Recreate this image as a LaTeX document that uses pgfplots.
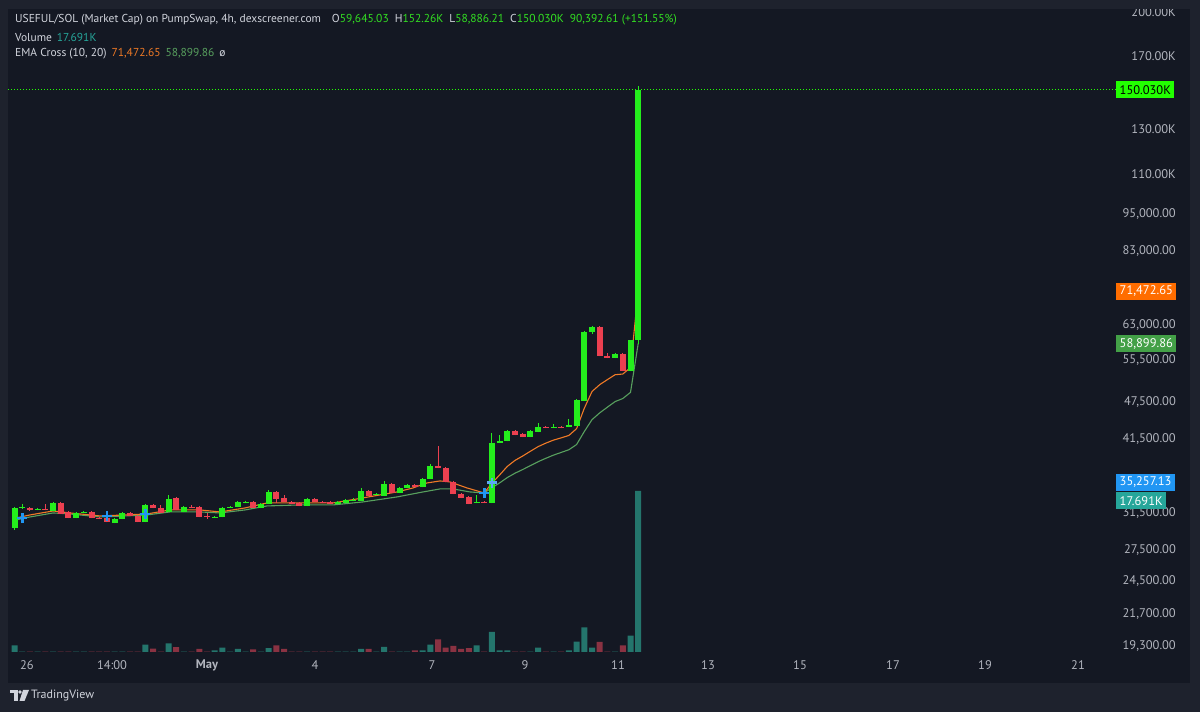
\documentclass[border=0pt]{standalone}
\usepackage{pgfplots}
\pgfplotsset{compat=1.18}
\usepackage{fontspec}
\setmainfont{PT Sans}
\definecolor{outerbg}{HTML}{1E222D}
\definecolor{panelbg}{HTML}{141823}
\definecolor{cgreen}{HTML}{24EE1C}
\definecolor{cred}{HTML}{EC4050}
\definecolor{vteal}{HTML}{24756C}
\definecolor{vred}{HTML}{8A3242}
\definecolor{emaor}{HTML}{F07A26}
\definecolor{emagr}{HTML}{58A05E}
\definecolor{txt}{HTML}{D1D4DC}
\definecolor{axtxt}{HTML}{B2B5BE}
\definecolor{tgreen}{HTML}{33E022}
\definecolor{tteal}{HTML}{26A69A}
\definecolor{boxgreen}{HTML}{22FF00}
\definecolor{boxor}{HTML}{FF6D00}
\definecolor{boxema}{HTML}{43A047}
\definecolor{boxblue}{HTML}{2196F3}
\definecolor{crossblue}{HTML}{2196F3}
\definecolor{crosslight}{HTML}{5AA9F0}
\begin{document}
\begin{tikzpicture}
\fill[outerbg] (0,0) rectangle (1200pt,712pt);
\begin{scope}[x=1pt,y=-1pt,yshift=712pt]
\fill[panelbg] (8,8) rectangle (1190,683);
\end{scope}
% ---------------- volume pane ----------------
\begin{axis}[scale only axis, width=1200pt, height=712pt, xmin=0, xmax=1200,
  ymin=-6593, ymax=71642, axis lines=none, clip=false]
\addplot[ybar, bar width=6pt, bar shift=0pt, fill=vteal, draw=none] coordinates {
(14.5,720)(22.2,40)(37.6,40)(53,40)(76.1,40)(83.8,40)(114.6,40)(122.3,40)(145.4,815)(168.5,960)(183.9,40)(214.7,190)(222.4,480)(230.1,40)(237.8,336)(245.5,40)(260.9,40)(268.6,432)(307.1,40)(337.9,40)(345.6,40)(353.3,40)(361,336)(376.4,40)(384.1,576)(399.5,40)(407.2,40)(422.6,190)(430.3,815)(476.5,720)(491.9,2200)(499.6,190)(507.3,190)(530.4,40)(538.1,480)(553.5,40)(568.9,190)(576.6,1150)(584.3,2700)(592,480)(615.1,40)(630.5,1800)(638.2,17691)};
\addplot[ybar, bar width=6pt, bar shift=0pt, fill=vred, draw=none] coordinates {
(29.9,40)(45.3,40)(60.7,40)(68.4,40)(91.5,40)(99.2,40)(106.9,40)(130,40)(137.7,40)(153.1,384)(160.8,40)(176.2,527)(191.6,40)(199.3,336)(207,40)(253.2,288)(276.3,720)(284,336)(291.7,40)(299.4,40)(314.8,40)(322.5,40)(330.2,40)(368.7,336)(391.8,40)(414.9,190)(438,1390)(445.7,480)(453.4,670)(461.1,336)(468.8,432)(484.2,40)(515,40)(522.7,40)(545.8,40)(561.2,40)(599.7,1100)(607.4,40)(622.8,720)};
\end{axis}
% ---------------- price pane ----------------
\begin{axis}[scale only axis, width=1200pt, height=712pt, xmin=0, xmax=1200,
  ymode=log, ymin=15142, ymax=209048, axis lines=none, clip=false,
  unbounded coords=jump]
% last-price dotted line
\addplot[boxgreen, line width=1pt, dash pattern=on 1pt off 2pt] coordinates {(8,150030)(1116,150030)};
% EMA 20
\addplot[emagr, line width=1.1pt, line join=round] coordinates {
(16,30736)(30,31078)(53,31540)(70,31424)(100,31078)(125,31193)(147,31308)(170,31657)(200,31657)(220,31540)(245,31891)(267,32365)(300,32485)(333,32485)(363,32846)(397,33457)(423,34080)(440,34459)(453,34459)(470,34080)(484.2,33955)(491.9,34610)(499.6,35231)(507.3,35940)(515,36522)(522.7,37019)(530.4,37558)(538.1,38105)(545.8,38585)(553.5,39035)(561.2,39427)(568.9,39828)(576.6,40591)(584.3,42580)(592,44488)(599.7,45610)(607.4,46586)(615.1,47548)(622.8,48091)(630.5,49191)(638.2,58899.86)};
% EMA 10
\addplot[emaor, line width=1.1pt, line join=round] coordinates {
(16,30964)(30,31308)(53,31774)(70,31540)(100,31193)(125,31308)(147,31424)(170,31891)(200,31891)(220,31657)(245,32127)(267,32725)(300,32725)(333,32725)(357,33211)(380,33705)(397,34080)(413,34586)(427,35230)(440,35491)(450,35360)(467,34586)(484.2,33955)(491.9,35202)(499.6,36281)(507.3,37445)(515,38284)(522.7,38913)(530.4,39598)(538.1,40274)(545.8,40798)(553.5,41256)(561.2,41601)(568.9,41971)(576.6,43040)(584.3,46397)(592,49351)(599.7,50611)(607.4,51567)(615.1,52500)(622.8,52636)(630.5,53911)(638.2,71472.65)};
% cross hidden behind the breakout candle
\addplot[only marks, mark=+, mark size=5pt, crosslight, line width=2.6pt] coordinates {(491.9,35257.13)};
% green wicks
\addplot[cgreen, line width=1pt] coordinates {
(14.5,29624)(14.5,32246)(14.5,nan)
(22.2,32009)(22.2,32605)(22.2,nan)
(37.6,31832)(37.6,32127)(37.6,nan)
(53,31715)(53,32846)(53,nan)
(76.1,30907)(76.1,31657)(76.1,nan)
(83.8,31482)(83.8,31774)(83.8,nan)
(114.6,30342)(114.6,30907)(114.6,nan)
(122.3,30793)(122.3,31599)(122.3,nan)
(145.4,30454)(145.4,32545)(145.4,nan)
(168.5,31599)(168.5,33705)(168.5,nan)
(183.9,31599)(183.9,32305)(183.9,nan)
(214.7,30907)(214.7,31136)(214.7,nan)
(222.4,31021)(222.4,32187)(222.4,nan)
(230.1,32068)(230.1,32305)(230.1,nan)
(237.8,32187)(237.8,32906)(237.8,nan)
(245.5,32665)(245.5,32906)(245.5,nan)
(260.9,32068)(260.9,32665)(260.9,nan)
(268.6,32545)(268.6,34332)(268.6,nan)
(307.1,32305)(307.1,33272)(307.1,nan)
(337.9,32545)(337.9,32906)(337.9,nan)
(345.6,32665)(345.6,33150)(345.6,nan)
(353.3,32906)(353.3,33334)(353.3,nan)
(361,32906)(361,34586)(361,nan)
(376.4,33643)(376.4,33955)(376.4,nan)
(384.1,33519)(384.1,35491)(384.1,nan)
(399.5,33892)(399.5,34650)(399.5,nan)
(407.2,34522)(407.2,35035)(407.2,nan)
(422.6,34650)(422.6,35820)(422.6,nan)
(430.3,35688)(430.3,37787)(430.3,nan)
(476.5,32665)(476.5,33705)(476.5,nan)
(491.9,32665)(491.9,42364)(491.9,nan)
(499.6,40755)(499.6,42053)(499.6,nan)
(507.3,41058)(507.3,42757)(507.3,nan)
(530.4,41667)(530.4,42757)(530.4,nan)
(538.1,42443)(538.1,43956)(538.1,nan)
(553.5,43073)(553.5,43794)(553.5,nan)
(568.9,43232)(568.9,44609)(568.9,nan)
(576.6,43392)(576.6,47935)(576.6,nan)
(584.3,47582)(584.3,61595)(584.3,nan)
(592,61030)(592,62742)(592,nan)
(615.1,55758)(615.1,56795)(615.1,nan)
(630.5,53147)(630.5,59700)(630.5,nan)
(638.2,58886.21)(638.2,152260)};
% green bodies
\addplot[cgreen, line width=6pt] coordinates {
(14.5,29843)(14.5,32127)(14.5,nan)
(22.2,32127)(22.2,32246)(22.2,nan)
(37.6,31891)(37.6,32009)(37.6,nan)
(53,31774)(53,32725)(53,nan)
(76.1,30964)(76.1,31540)(76.1,nan)
(83.8,31540)(83.8,31657)(83.8,nan)
(114.6,30398)(114.6,30850)(114.6,nan)
(122.3,30850)(122.3,31540)(122.3,nan)
(145.4,30510)(145.4,32485)(145.4,nan)
(168.5,31657)(168.5,33211)(168.5,nan)
(183.9,31657)(183.9,32246)(183.9,nan)
(214.7,30964)(214.7,31078)(214.7,nan)
(222.4,31078)(222.4,32127)(222.4,nan)
(230.1,32127)(230.1,32246)(230.1,nan)
(237.8,32246)(237.8,32846)(237.8,nan)
(245.5,32725)(245.5,32846)(245.5,nan)
(260.9,32127)(260.9,32605)(260.9,nan)
(268.6,32605)(268.6,34080)(268.6,nan)
(307.1,32365)(307.1,33211)(307.1,nan)
(337.9,32605)(337.9,32846)(337.9,nan)
(345.6,32725)(345.6,33089)(345.6,nan)
(353.3,32967)(353.3,33089)(353.3,nan)
(361,32967)(361,34206)(361,nan)
(376.4,33705)(376.4,33830)(376.4,nan)
(384.1,33581)(384.1,35100)(384.1,nan)
(399.5,33955)(399.5,34586)(399.5,nan)
(407.2,34586)(407.2,34971)(407.2,nan)
(422.6,34714)(422.6,35754)(422.6,nan)
(430.3,35754)(430.3,37509)(430.3,nan)
(476.5,32725)(476.5,32846)(476.5,nan)
(491.9,32725)(491.9,40830)(491.9,nan)
(499.6,40830)(499.6,41132)(499.6,nan)
(507.3,41132)(507.3,42678)(507.3,nan)
(530.4,41744)(530.4,42678)(530.4,nan)
(538.1,42521)(538.1,43312)(538.1,nan)
(553.5,43153)(553.5,43312)(553.5,nan)
(568.9,43312)(568.9,43633)(568.9,nan)
(576.6,43472)(576.6,47846)(576.6,nan)
(584.3,47670)(584.3,61482)(584.3,nan)
(592,61482)(592,62626)(592,nan)
(615.1,55861)(615.1,56690)(615.1,nan)
(630.5,53245)(630.5,59645)(630.5,nan)
(638.2,59645.03)(638.2,150030)};
% red wicks
\addplot[cred, line width=1pt] coordinates {
(29.9,31774)(29.9,32246)(29.9,nan)
(45.3,31832)(45.3,32605)(45.3,nan)
(60.7,31366)(60.7,32785)(60.7,nan)
(68.4,30907)(68.4,31715)(68.4,nan)
(91.5,30907)(91.5,31715)(91.5,nan)
(99.2,30793)(99.2,31021)(99.2,nan)
(106.9,30454)(106.9,31078)(106.9,nan)
(130,31136)(130,31599)(130,nan)
(137.7,30454)(137.7,31250)(137.7,nan)
(153.1,32068)(153.1,32545)(153.1,nan)
(160.8,31482)(160.8,32485)(160.8,nan)
(176.2,31832)(176.2,33395)(176.2,nan)
(191.6,32068)(191.6,32485)(191.6,nan)
(199.3,31021)(199.3,32305)(199.3,nan)
(207,30850)(207,31540)(207,nan)
(253.2,32068)(253.2,32906)(253.2,nan)
(276.3,32725)(276.3,34143)(276.3,nan)
(284,32785)(284,33705)(284,nan)
(291.7,32545)(291.7,32906)(291.7,nan)
(299.4,32305)(299.4,32785)(299.4,nan)
(314.8,32785)(314.8,33272)(314.8,nan)
(322.5,32665)(322.5,32906)(322.5,nan)
(330.2,32545)(330.2,32906)(330.2,nan)
(368.7,33519)(368.7,34269)(368.7,nan)
(391.8,33892)(391.8,35165)(391.8,nan)
(414.9,34650)(414.9,35035)(414.9,nan)
(438,37165)(438,40381)(438,nan)
(445.7,35295)(445.7,37302)(445.7,nan)
(453.4,33768)(453.4,35426)(453.4,nan)
(461.1,33272)(461.1,33892)(461.1,nan)
(468.8,32545)(468.8,33519)(468.8,nan)
(484.2,32665)(484.2,32906)(484.2,nan)
(515,41975)(515,42757)(515,nan)
(522.7,41667)(522.7,42286)(522.7,nan)
(545.8,43073)(545.8,43392)(545.8,nan)
(561.2,43073)(561.2,43392)(561.2,nan)
(599.7,56170)(599.7,62742)(599.7,nan)
(607.4,55758)(607.4,56900)(607.4,nan)
(622.8,53147)(622.8,56795)};
% red bodies
\addplot[cred, line width=6pt] coordinates {
(29.9,32127)(29.9,31891)(29.9,nan)
(45.3,32009)(45.3,31891)(45.3,nan)
(60.7,32725)(60.7,31424)(60.7,nan)
(68.4,31657)(68.4,30964)(68.4,nan)
(91.5,31657)(91.5,30964)(91.5,nan)
(99.2,30964)(99.2,30850)(99.2,nan)
(106.9,30964)(106.9,30510)(106.9,nan)
(130,31540)(130,31193)(130,nan)
(137.7,31193)(137.7,30510)(137.7,nan)
(153.1,32485)(153.1,32127)(153.1,nan)
(160.8,32127)(160.8,31540)(160.8,nan)
(176.2,33334)(176.2,31891)(176.2,nan)
(191.6,32246)(191.6,32127)(191.6,nan)
(199.3,32246)(199.3,31078)(199.3,nan)
(207,31193)(207,31078)(207,nan)
(253.2,32846)(253.2,32127)(253.2,nan)
(276.3,34080)(276.3,33211)(276.3,nan)
(284,33334)(284,32846)(284,nan)
(291.7,32846)(291.7,32605)(291.7,nan)
(299.4,32725)(299.4,32365)(299.4,nan)
(314.8,33211)(314.8,32846)(314.8,nan)
(322.5,32846)(322.5,32725)(322.5,nan)
(330.2,32846)(330.2,32605)(330.2,nan)
(368.7,34206)(368.7,33581)(368.7,nan)
(391.8,35100)(391.8,33955)(391.8,nan)
(414.9,34971)(414.9,34714)(414.9,nan)
(438,37509)(438,37234)(438,nan)
(445.7,37234)(445.7,35360)(445.7,nan)
(453.4,35360)(453.4,33830)(453.4,nan)
(461.1,33830)(461.1,33334)(461.1,nan)
(468.8,33457)(468.8,32605)(468.8,nan)
(484.2,32846)(484.2,32725)(484.2,nan)
(515,42678)(515,42053)(515,nan)
(522.7,42208)(522.7,41744)(522.7,nan)
(545.8,43312)(545.8,43153)(545.8,nan)
(561.2,43312)(561.2,43153)(561.2,nan)
(599.7,62626)(599.7,56274)(599.7,nan)
(607.4,56274)(607.4,55861)(607.4,nan)
(622.8,56690)(622.8,53245)};
% EMA cross markers
\addplot[only marks, mark=+, mark size=5pt, crossblue, line width=2.6pt] coordinates {
(22.2,30964)(106.9,31193)(145.4,31424)(484.2,33955)};
% price scale labels
\begin{scope}[every node/.style={anchor=east, inner sep=0pt, text=axtxt, font=\fontsize{12.5}{14}\selectfont}]
\node at (axis cs:1176,200000) {200.00K};
\node at (axis cs:1176,170000) {170.00K};
\node at (axis cs:1176,130000) {130.00K};
\node at (axis cs:1176,110000) {110.00K};
\node at (axis cs:1176,95000) {95,000.00};
\node at (axis cs:1176,83000) {83,000.00};
\node at (axis cs:1176,63000) {63,000.00};
\node at (axis cs:1176,55500) {55,500.00};
\node at (axis cs:1176,47500) {47,500.00};
\node at (axis cs:1176,41500) {41,500.00};
\node at (axis cs:1176,31500) {31,500.00};
\node at (axis cs:1176,27500) {27,500.00};
\node at (axis cs:1176,24500) {24,500.00};
\node at (axis cs:1176,21700) {21,700.00};
\node at (axis cs:1176,19300) {19,300.00};
\end{scope}
% price tags
\begin{scope}[every node/.style={anchor=west, inner xsep=3.5pt, inner ysep=0pt, minimum height=17pt, font=\fontsize{12.5}{14}\selectfont}]
\node[fill=boxgreen, text=black] at (axis cs:1116,150030) {150.030K};
\node[fill=boxor, text=white] at (axis cs:1116,71472.65) {71,472.65};
\node[fill=boxema, text=white] at (axis cs:1116,58899.86) {58,899.86};
\node[fill=tteal, text=white] at (axis cs:1116,33000) {17.691K};
\node[fill=boxblue, text=white] at (axis cs:1116,35350) {35,257.13};
\end{scope}
\end{axis}
% ---------------- frame texts ----------------
\begin{scope}[x=1pt,y=-1pt,yshift=712pt]
\fill[outerbg] (0,0) rectangle (1200,9);
\begin{scope}[every node/.style={anchor=west, inner sep=0pt, font=\fontsize{11.5}{14}\selectfont}]
\node at (15,20) {\color{txt}USEFUL/SOL (Market Cap) on PumpSwap, 4h, dexscreener.com\hspace{11pt}O\textcolor{tgreen}{59,645.03}\hspace{6pt}H\textcolor{tgreen}{152.26K}\hspace{6pt}L\textcolor{tgreen}{58,886.21}\hspace{6pt}C\textcolor{tgreen}{150.030K}\hspace{6pt}\textcolor{tgreen}{90,392.61 (+151.55\%)}};
\node at (15,37) {\color{txt}Volume\hspace{5pt}\textcolor{tteal}{17.691K}};
\node at (15,54) {\color{txt}EMA Cross (10, 20)\hspace{5pt}\textcolor{emaor}{71,472.65}\hspace{5pt}\textcolor{emagr}{58,899.86}\hspace{5pt}ø};
\end{scope}
\begin{scope}[every node/.style={anchor=center, inner sep=0pt, text=axtxt, font=\fontsize{12.5}{14}\selectfont}]
\node at (27,665) {26};
\node at (112,665) {14:00};
\node at (207,665) {\bfseries May};
\node at (315,665) {4};
\node at (432,665) {7};
\node at (525,665) {9};
\node at (618,665) {11};
\node at (708,665) {13};
\node at (800,665) {15};
\node at (893,665) {17};
\node at (985,665) {19};
\node at (1078,665) {21};
\end{scope}
% TradingView attribution
\fill[txt] (10,690) rectangle (17.5,693.5);
\fill[txt] (13.5,690) rectangle (17.5,701);
\fill[txt] (20,692) circle (1.8);
\fill[txt] (23,690) -- (29,690) -- (24.5,701) -- (19.5,701) -- cycle;
\node[anchor=west, inner sep=0pt, text=txt, font=\fontsize{12}{14}\selectfont] at (31,695.5) {TradingView};
\end{scope}
\end{tikzpicture}
\end{document}
